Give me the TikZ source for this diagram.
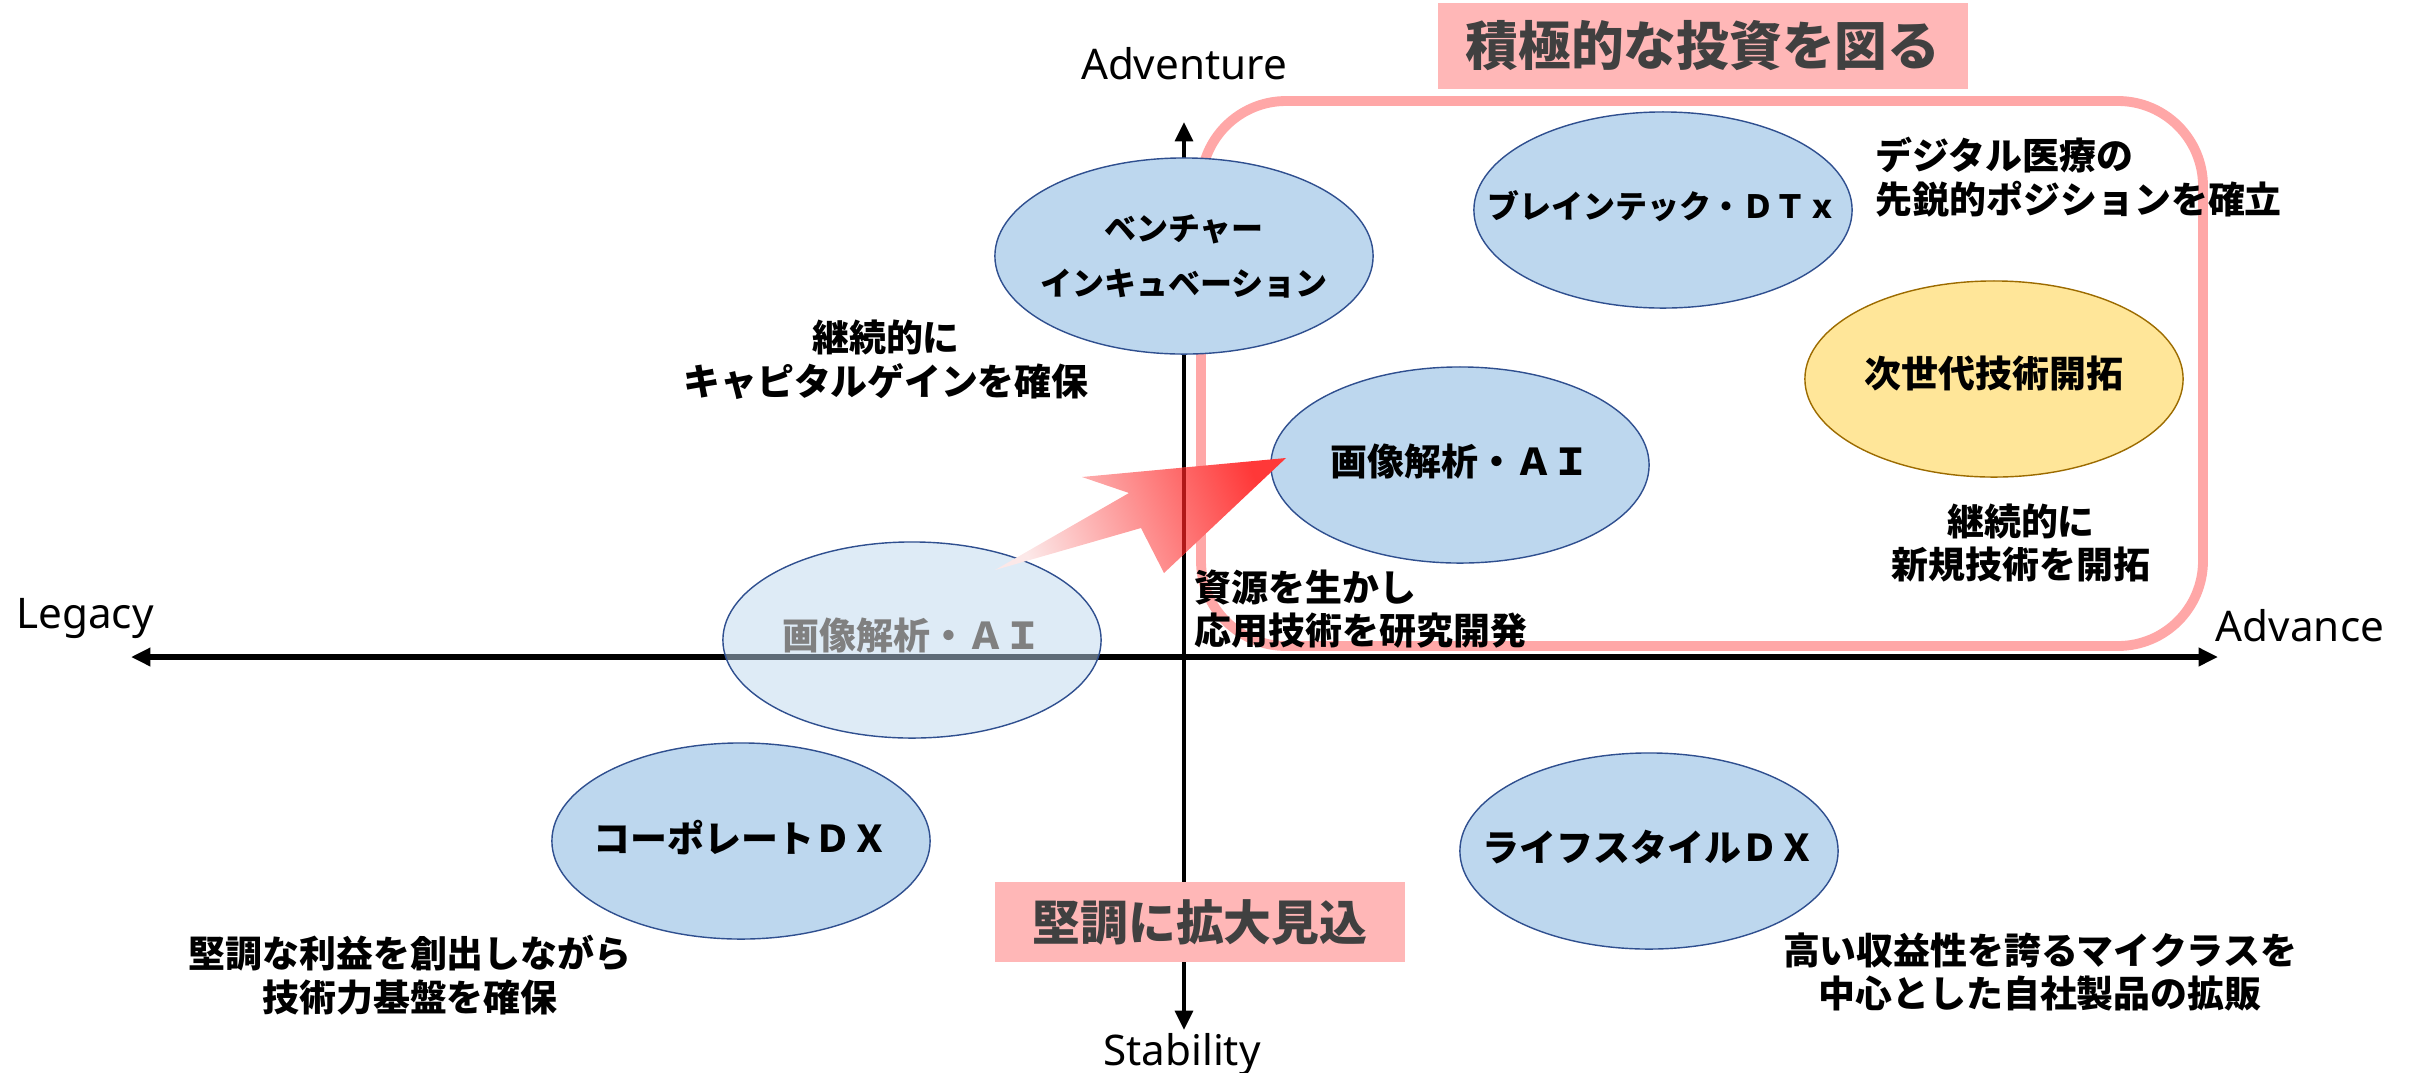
\documentclass[tikz,border=0pt]{standalone}
\usepackage{fontspec}
\setmainfont{Noto Sans CJK JP}
\newfontfamily\axisfont{Noto Sans}
\usepackage{tikz}
\usetikzlibrary{arrows.meta,shapes.geometric}

\definecolor{blobfill}{HTML}{BDD7EE}
\definecolor{blobline}{HTML}{2F4F8F}
\definecolor{goldfill}{HTML}{FFE699}
\definecolor{goldline}{HTML}{9C6B00}
\definecolor{framepink}{HTML}{FFA7A7}
\definecolor{bannerpink}{HTML}{FFB7B7}
\definecolor{bannertext}{HTML}{404040}
\definecolor{movetail}{HTML}{FCE8E8}
\definecolor{movehead}{HTML}{FF3838}
\definecolor{moveaxis}{HTML}{B01818}

\tikzset{
	blob/.style={ellipse, draw=blobline, fill=blobfill, line width=0.4pt,
		minimum width=3.78cm, minimum height=1.96cm, inner sep=0pt},
	gold/.style={blob, draw=goldline, fill=goldfill},
	faded/.style={blob, fill opacity=0.5},
	tag/.style={font=\bfseries\fontsize{10.5}{12.4}\selectfont, align=center, inner sep=0pt},
	smalltag/.style={tag, font=\bfseries\fontsize{9.1}{15.6}\selectfont},
	banner/.style={fill=bannerpink, text=bannertext, inner sep=0pt,
		font=\bfseries\fontsize{15}{18}\selectfont},
	axislabel/.style={font=\axisfont\fontsize{12}{14}\selectfont, inner sep=0pt, anchor=base},
	axis/.style={{Triangle[length=5.5pt,width=5pt]}-{Triangle[length=5.5pt,width=5pt]}}
}

\begin{document}
\begin{tikzpicture}[x=0.01cm, y=-0.01cm]
	\useasboundingbox (0,0) rectangle (2420,1072);
	
	% the invest area
	\draw[framepink, line width=2.8pt, rounded corners=0.85cm] (1201,101) rectangle (2203,646);
	
	% the axes
	\coordinate (top) at (1184,122);
	\coordinate (bottom) at (1184,1030);
	\coordinate (west) at (131,657);
	\coordinate (east) at (2218,657);
	\draw[axis, line width=1.2pt] (top) -- (bottom);
	\draw[axis, line width=1.6pt] (west) -- (east);
	
	\node[axislabel] (adventure) at (1184,79) {Adventure};
	\node[axislabel] (stability) at (1182,1065) {Stability};
	\node[axislabel] (legacy) at (85,628) {Legacy};
	\node[axislabel] (advance) at (2300,641) {Advance};
	
	% the fields
	\node[blob] (venture) at (1184,256) {};
	\node[blob] (braintech) at (1663,210) {};
	\node[gold] (nextgen) at (1994,379) {};
	\node[blob] (image) at (1460,465) {};
	\node[blob] (corporate) at (741,841) {};
	\node[blob] (lifestyle) at (1649,851) {};
	\node[faded] (imageold) at (912,640) {};
	
	\node[smalltag] (ventureT) at (venture) {ベンチャー\\インキュベーション};
	\node[smalltag] (braintechT) at ([yshift=1pt]braintech) {ブレインテック・ＤＴｘ};
	\node[tag] (nextgenT) at ([yshift=1.5pt]nextgen) {次世代技術開拓};
	\node[tag] (imageT) at ([yshift=1pt]image) {画像解析・ＡＩ};
	\node[tag] (corporateT) at ([yshift=1pt]corporate) {コーポレートＤＸ};
	\node[tag] (lifestyleT) at ([yshift=1pt]lifestyle) {ライフスタイルＤＸ};
	\node[tag, text=black!50] (imageoldT) at ([yshift=1.4pt]imageold) {画像解析・ＡＩ};
	
	% the move
	\def\move{(995,570) -- (1129,493) -- (1082,477) -- (1286,458) -- (1164,573) -- (1141,528) -- cycle}
	\shade[left color=movetail, right color=movehead, shading angle=111] \move;
	\begin{scope}
		\clip \move;
		\draw[moveaxis, line width=1.2pt] (top) -- (bottom);
	\end{scope}
	
	% the notes
	\node[tag] (gain) at (886,360) {継続的に\\キャピタルゲインを確保};
	\node[tag, align=left, anchor=west] (resource) at (1194,609) {資源を生かし\\応用技術を研究開発};
	\node[tag, align=left, anchor=west] (medical) at (1875,177) {デジタル医療の\\先鋭的ポジションを確立};
	\node[tag] (newtech) at (2021,543) {継続的に\\新規技術を開拓};
	\node[tag] (profit) at (410,975) {堅調な利益を創出しながら\\技術力基盤を確保};
	\node[tag] (sales) at (2040,972) {高い収益性を誇るマイクラスを\\中心とした自社製品の拡販};
	
	% the banners
	\node[banner, minimum width=5.3cm, minimum height=0.85cm] (invest) at (1703,46) {積極的な投資を図る};
	\node[banner, minimum width=4.09cm, minimum height=0.79cm,
		font=\bfseries\fontsize{13.6}{16}\selectfont] (steady) at (1200,922) {堅調に拡大見込};
\end{tikzpicture}
\end{document}
